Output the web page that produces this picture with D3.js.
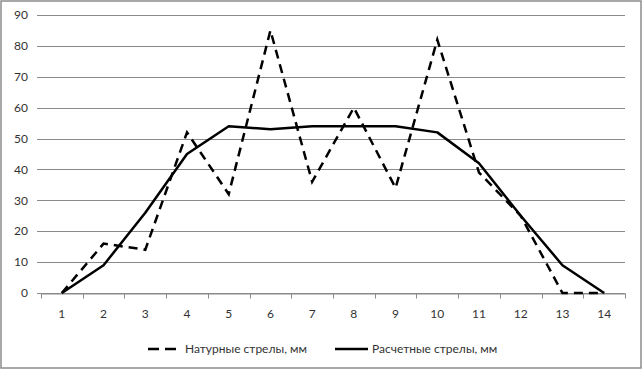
<!DOCTYPE html>
<html>
<head>
<meta charset="utf-8">
<script src="https://d3js.org/d3.v7.min.js"></script>
<style>
  body { margin: 0; background: #fff; }
  svg text { font-family: Lato, "Open Sans", sans-serif; font-size: 12px; fill: #333; }
</style>
</head>
<body>
<div id="chart"></div>
<script>
// Categories (measurement points) and the two series
const categories = [1, 2, 3, 4, 5, 6, 7, 8, 9, 10, 11, 12, 13, 14];
const naturalValues = [0, 16, 14, 52, 32, 85, 36, 60, 34, 82, 39, 25, 0, 0];
const calculatedValues = [0, 9, 26, 45, 54, 53, 54, 54, 54, 52, 42, 25, 9, 0];
const yTicks = [0, 10, 20, 30, 40, 50, 60, 70, 80, 90];
const seriesNames = ["Натурные стрелы, мм", "Расчетные стрелы, мм"];

const width = 643, height = 370;
const margin = { top: 15, right: 18, bottom: 77, left: 41 };

const svg = d3.select("#chart").append("svg")
    .attr("width", width)
    .attr("height", height);

// Outer chart border
svg.append("rect")
    .attr("x", 1).attr("y", 1)
    .attr("width", width - 3).attr("height", height - 3)
    .attr("fill", "none")
    .attr("stroke", "#8c8c8c")
    .attr("stroke-width", 1.5);

const x = d3.scaleBand()
    .domain(categories)
    .range([margin.left, width - margin.right]);

const y = d3.scaleLinear()
    .domain([0, 90])
    .range([height - margin.bottom, margin.top]);

// Gridlines (with small outside tick on the left)
svg.append("g")
    .selectAll("line")
    .data(yTicks)
    .join("line")
    .attr("x1", margin.left - 4)
    .attr("x2", width - margin.right)
    .attr("y1", d => Math.round(y(d)) + 0.5)
    .attr("y2", d => Math.round(y(d)) + 0.5)
    .attr("stroke", "#8a8a8a")
    .attr("stroke-width", 1);

// Y labels
svg.append("g")
    .selectAll("text")
    .data(yTicks)
    .join("text")
    .attr("x", 28)
    .attr("y", d => y(d))
    .attr("dy", "0.35em")
    .attr("text-anchor", "end")
    .text(d => d);

// X axis
const xAxis = svg.append("g")
    .attr("transform", `translate(0,${Math.round(y(0)) + 0.5})`)
    .call(d3.axisBottom(x).tickSize(0).tickPadding(16));
xAxis.select(".domain").attr("stroke", "#8a8a8a");
xAxis.selectAll("text").style("font-family", null).style("font-size", null).attr("fill", null);

// Tick marks at band boundaries
const boundaries = categories.map(c => x(c)).concat([x(categories[categories.length - 1]) + x.bandwidth()]);
xAxis.append("g")
    .selectAll("line")
    .data(boundaries)
    .join("line")
    .attr("x1", d => Math.round(d) + 0.5)
    .attr("x2", d => Math.round(d) + 0.5)
    .attr("y1", 0)
    .attr("y2", 5)
    .attr("stroke", "#8a8a8a");

const cx = c => x(c) + x.bandwidth() / 2;

const line = d3.line()
    .x((d, i) => cx(categories[i]))
    .y(d => y(d));

svg.append("path")
    .datum(calculatedValues)
    .attr("d", line)
    .attr("fill", "none")
    .attr("stroke", "#000")
    .attr("stroke-width", 2.5)
    .attr("stroke-linejoin", "round");

svg.append("path")
    .datum(naturalValues)
    .attr("d", line)
    .attr("fill", "none")
    .attr("stroke", "#000")
    .attr("stroke-width", 2.5)
    .attr("stroke-dasharray", "9,6");

// Legend
const legendY = 349;
const legend = svg.append("g");
legend.append("line")
    .attr("x1", 148).attr("x2", 177)
    .attr("y1", legendY).attr("y2", legendY)
    .attr("stroke", "#000").attr("stroke-width", 2.5)
    .attr("stroke-dasharray", "11,6");
legend.append("text")
    .attr("x", 185).attr("y", legendY).attr("dy", "0.35em")
    .text(seriesNames[0]);
legend.append("line")
    .attr("x1", 335).attr("x2", 368)
    .attr("y1", legendY).attr("y2", legendY)
    .attr("stroke", "#000").attr("stroke-width", 2.5);
legend.append("text")
    .attr("x", 372).attr("y", legendY).attr("dy", "0.35em")
    .text(seriesNames[1]);
</script>
</body>
</html>
